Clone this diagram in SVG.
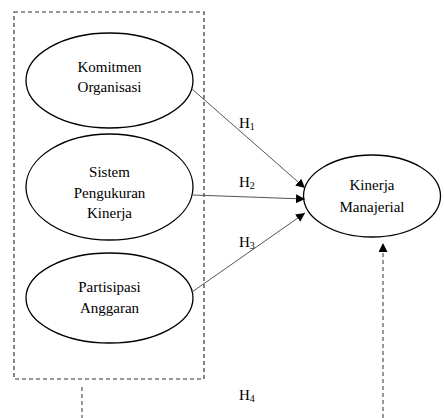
<svg xmlns="http://www.w3.org/2000/svg" width="444" height="418" viewBox="0 0 444 418">
<style>
.node ellipse{fill:#fff;stroke:#000;stroke-width:1.3}
text{font-family:'Liberation Serif','DejaVu Serif',serif;font-size:15px;fill:#000;text-anchor:middle}
.lbl{text-anchor:start}
.sub{font-size:10px}
.conn line{stroke:#555;stroke-width:1}
.dash{fill:none;stroke:#333;stroke-width:1.2;stroke-dasharray:4,3}
</style>
<defs>
<marker id="ah" viewBox="0 0 10 10" refX="10" refY="5" markerWidth="9" markerHeight="9" markerUnits="userSpaceOnUse" orient="auto">
<path d="M0,0 L10,5 L0,10 z" fill="#000"/>
</marker>
</defs>
<rect class="dash" x="14" y="12" width="190" height="367"/>
<g id="komitmen" class="node">
<ellipse cx="109.5" cy="80.5" rx="83.5" ry="47.5"/>
<text x="109.5" y="72" font-family="Liberation Serif, serif">Komitmen</text>
<text x="109.5" y="92" font-family="Liberation Serif, serif">Organisasi</text>
</g>
<g id="sistem" class="node">
<ellipse cx="109.5" cy="187" rx="83.5" ry="53"/>
<text x="109.5" y="177" font-family="Liberation Serif, serif">Sistem</text>
<text x="109.5" y="198" font-family="Liberation Serif, serif">Pengukuran</text>
<text x="109.5" y="218" font-family="Liberation Serif, serif">Kinerja</text>
</g>
<g id="partisipasi" class="node">
<ellipse cx="109.5" cy="298" rx="83.5" ry="45"/>
<text x="109.5" y="292" font-family="Liberation Serif, serif">Partisipasi</text>
<text x="109.5" y="313" font-family="Liberation Serif, serif">Anggaran</text>
</g>
<g id="kinerja" class="node">
<ellipse cx="372" cy="196" rx="68.5" ry="41"/>
<text x="372" y="190" font-family="Liberation Serif, serif">Kinerja</text>
<text x="372" y="212" font-family="Liberation Serif, serif">Manajerial</text>
</g>
<g id="connectors" class="conn">
<line x1="192" y1="89" x2="305" y2="188" marker-end="url(#ah)"/>
<line x1="193" y1="195" x2="305" y2="199" marker-end="url(#ah)"/>
<line x1="192" y1="292" x2="305" y2="213" marker-end="url(#ah)"/>
<line class="dash" x1="82" y1="387" x2="82" y2="418" style="stroke:#333"/>
<line x1="383" y1="418" x2="383" y2="243" style="stroke:#777;stroke-width:1.5;stroke-dasharray:4,3" marker-end="url(#ah)"/>
</g>
<g id="labels">
<text class="lbl" x="239" y="128" font-family="Liberation Serif, serif">H<tspan class="sub" dy="2">1</tspan></text>
<text class="lbl" x="239" y="187" font-family="Liberation Serif, serif">H<tspan class="sub" dy="2">2</tspan></text>
<text class="lbl" x="239" y="247" font-family="Liberation Serif, serif">H<tspan class="sub" dy="2">3</tspan></text>
<text class="lbl" x="239" y="400" font-family="Liberation Serif, serif">H<tspan class="sub" dy="2">4</tspan></text>
</g>
</svg>
